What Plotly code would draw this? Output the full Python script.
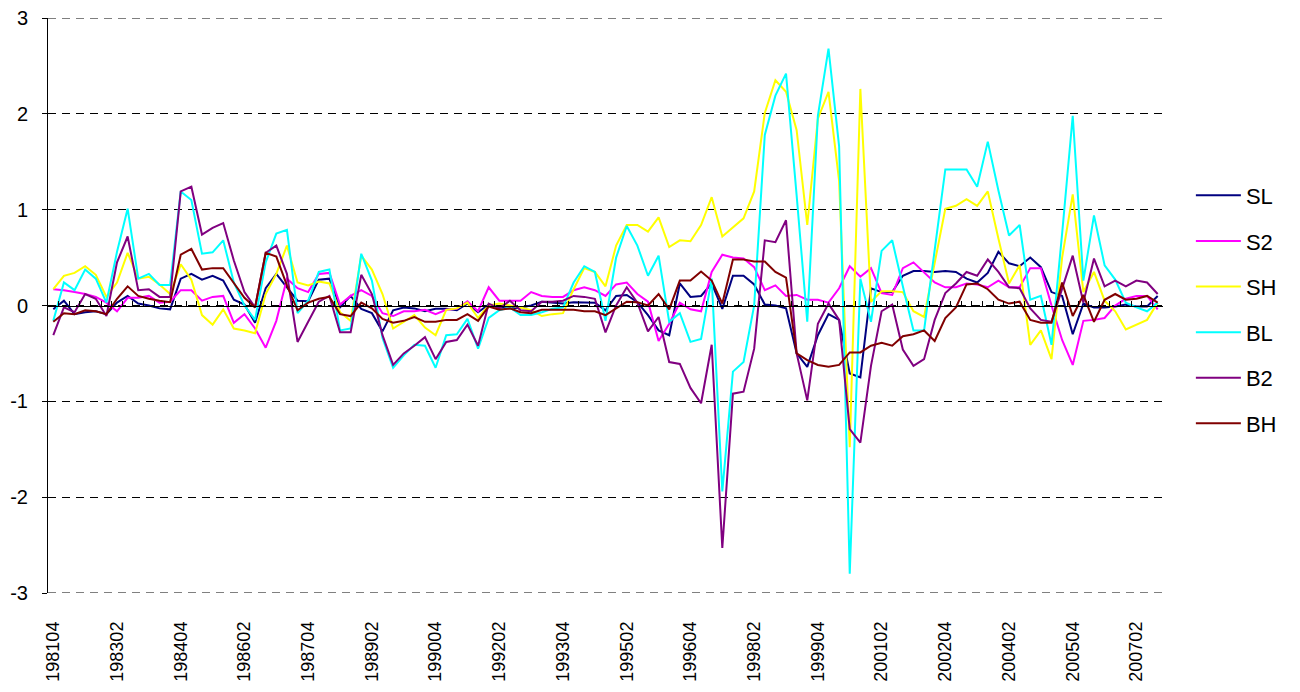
import plotly.graph_objects as go

# quarterly categories 198104 .. 200704
start_year, start_q = 1981, 4
n_points = 105
categories = []
y, q = start_year, start_q
for _ in range(n_points):
    categories.append(f"{y}0{q}")
    q += 1
    if q > 4:
        q = 1
        y += 1

SL = [-0.04, 0.05, -0.09, -0.07, -0.06, -0.09, 0.03, 0.10, 0.02, 0.00,
      -0.03, -0.04, 0.28, 0.33, 0.27, 0.31, 0.26, 0.06, 0.01, -0.18,
      0.18, 0.33, 0.19, 0.05, 0.045, 0.27, 0.28, -0.02, 0.10, -0.035,
      -0.08, -0.27, -0.05, -0.02, -0.03, -0.06, -0.035, -0.035, -0.05, 0.02,
      -0.07, 0.01, -0.02, -0.03, -0.02, 0.00, 0.04, 0.03, 0.02, 0.035,
      0.03, 0.03, -0.05, 0.10, 0.11, 0.035, -0.10, -0.26, -0.31, 0.23,
      0.09, 0.10, 0.23, -0.035, 0.31, 0.31, 0.22, 0.01, 0.00, -0.03,
      -0.50, -0.64, -0.31, -0.09, -0.15, -0.71, -0.75, 0.18, 0.14, 0.14,
      0.31, 0.36, 0.36, 0.35, 0.36, 0.35, 0.28, 0.24, 0.34, 0.56,
      0.44, 0.41, 0.50, 0.40, 0.14, 0.10, -0.30, 0.02, -0.02, -0.02,
      -0.01, 0.01, -0.01, -0.01, 0.10]

S2 = [0.17, 0.16, 0.14, 0.12, 0.09, 0.03, -0.06, 0.08, 0.08, 0.10,
      0.03, 0.04, 0.16, 0.16, 0.05, 0.09, 0.10, -0.18, -0.09, -0.24,
      -0.44, -0.16, 0.28, 0.18, 0.14, 0.33, 0.34, 0.01, 0.10, 0.16,
      0.10, -0.08, -0.11, -0.06, -0.06, -0.045, -0.09, -0.045, -0.035, 0.045,
      -0.06, 0.19, 0.05, 0.05, 0.05, 0.14, 0.10, 0.09, 0.09, 0.16,
      0.19, 0.16, 0.10, 0.22, 0.24, 0.12, 0.04, -0.37, -0.19, 0.03,
      -0.04, -0.06, 0.35, 0.53, 0.50, 0.49, 0.40, 0.16, 0.21, 0.10,
      0.11, 0.06, 0.06, 0.03, 0.18, 0.41, 0.30, 0.39, 0.13, 0.11,
      0.39, 0.45, 0.35, 0.24, 0.19, 0.19, 0.23, 0.22, 0.19, 0.26,
      0.19, 0.19, 0.39, 0.39, 0.00, -0.36, -0.62, -0.16, -0.15, -0.13,
      0.00, 0.07, 0.10, 0.10, -0.04]

SH = [0.17, 0.31, 0.34, 0.41, 0.32, 0.09, 0.24, 0.55, 0.28, 0.30,
      0.22, 0.12, 0.43, 0.27, -0.10, -0.20, -0.04, -0.24, -0.26, -0.29,
      0.12, 0.33, 0.625, 0.24, 0.21, 0.25, 0.23, -0.07, -0.16, 0.52,
      0.375, 0.12, -0.24, -0.17, -0.10, -0.23, -0.31, -0.045, -0.03, 0.03,
      -0.13, 0.00, 0.02, 0.00, -0.02, -0.05, -0.11, -0.09, -0.08, 0.17,
      0.39, 0.35, 0.20, 0.625, 0.84, 0.84, 0.77, 0.92, 0.61, 0.68,
      0.67, 0.84, 1.13, 0.72, 0.82, 0.91, 1.19, 2.01, 2.35, 2.23,
      1.83, 0.84, 1.95, 2.23, 1.30, -1.48, 2.26, 0.04, 0.15, 0.15,
      0.14, -0.06, -0.12, 0.45, 1.01, 1.04, 1.11, 1.04, 1.19, 0.70,
      0.23, 0.42, -0.41, -0.26, -0.56, 0.50, 1.16, 0.14, 0.35, 0.05,
      -0.06, -0.25, -0.20, -0.15, 0.03]

BL = [-0.16, 0.24, 0.16, 0.375, 0.28, 0.03, 0.56, 1.01, 0.28, 0.33,
      0.215, 0.215, 1.19, 1.10, 0.54, 0.555, 0.68, 0.24, 0.00, -0.15,
      0.45, 0.75, 0.79, -0.08, 0.05, 0.35, 0.375, -0.26, -0.24, 0.54,
      0.26, -0.34, -0.65, -0.52, -0.41, -0.42, -0.65, -0.31, -0.30, -0.14,
      -0.45, -0.13, -0.05, -0.02, -0.10, -0.10, -0.07, -0.035, -0.02, 0.24,
      0.41, 0.35, -0.16, 0.50, 0.83, 0.625, 0.31, 0.52, -0.17, -0.08,
      -0.38, -0.35, 0.28, -1.94, -0.69, -0.59, 0.00, 1.78, 2.19, 2.42,
      1.15, -0.17, 1.98, 2.68, 1.66, -2.80, 0.28, -0.17, 0.57, 0.68,
      0.20, -0.26, -0.26, 0.60, 1.42, 1.42, 1.42, 1.24, 1.71, 1.20,
      0.73, 0.84, 0.06, 0.10, -0.41, 0.75, 1.98, 0.26, 0.94, 0.42,
      0.27, 0.03, -0.02, -0.06, 0.03]

B2 = [-0.31, -0.02, -0.07, 0.12, 0.07, -0.11, 0.45, 0.72, 0.16, 0.17,
      0.09, 0.09, 1.19, 1.24, 0.74, 0.81, 0.86, 0.47, 0.14, -0.02,
      0.55, 0.625, 0.33, -0.38, -0.17, 0.04, 0.10, -0.28, -0.28, 0.32,
      0.12, -0.31, -0.62, -0.50, -0.42, -0.33, -0.56, -0.38, -0.36, -0.20,
      -0.42, 0.02, -0.03, 0.05, -0.05, -0.06, 0.04, 0.04, 0.05, 0.10,
      0.09, 0.07, -0.28, 0.00, 0.19, 0.03, -0.27, -0.12, -0.59, -0.61,
      -0.86, -1.02, -0.41, -2.53, -0.92, -0.90, -0.45, 0.68, 0.66, 0.89,
      -0.50, -0.99, -0.19, 0.02, -0.15, -1.29, -1.43, -0.63, -0.06, 0.01,
      -0.46, -0.63, -0.56, -0.15, 0.13, 0.23, 0.35, 0.31, 0.48, 0.35,
      0.19, 0.18, -0.03, -0.15, -0.17, 0.17, 0.52, 0.03, 0.49, 0.20,
      0.26, 0.20, 0.26, 0.24, 0.12]

BH = [-0.17, -0.08, -0.09, -0.05, -0.06, -0.09, 0.07, 0.20, 0.10, 0.07,
      0.05, 0.035, 0.53, 0.59, 0.375, 0.39, 0.39, 0.23, 0.08, -0.02,
      0.55, 0.51, 0.21, -0.05, 0.03, 0.07, 0.09, -0.09, -0.11, 0.03,
      -0.03, -0.14, -0.18, -0.16, -0.12, -0.17, -0.17, -0.15, -0.15, -0.09,
      -0.16, -0.01, -0.045, -0.03, -0.07, -0.08, -0.045, -0.045, -0.045, -0.045,
      -0.06, -0.06, -0.10, -0.03, 0.04, 0.035, 0.00, 0.12, -0.04, 0.26,
      0.26, 0.355, 0.26, 0.02, 0.48, 0.48, 0.46, 0.46, 0.35, 0.29,
      -0.50, -0.57, -0.62, -0.64, -0.62, -0.49, -0.49, -0.42, -0.39, -0.42,
      -0.32, -0.30, -0.26, -0.37, -0.13, -0.02, 0.22, 0.23, 0.17, 0.06,
      0.02, 0.04, -0.15, -0.18, -0.18, 0.24, -0.11, 0.11, -0.17, 0.06,
      0.12, 0.06, 0.07, 0.10, 0.03]

series_names = ["SL", "S2", "SH", "BL", "B2", "BH"]
series_values = [SL, S2, SH, BL, B2, BH]
series_colors = ["#000080", "#FF00FF", "#FFFF00", "#00FFFF", "#800080", "#800000"]

y_ticks = [3, 2, 1, 0, -1, -2, -3]
y_ticktext = [str(v) for v in y_ticks]
label_step = 6
font_family = "Arial, Liberation Sans, sans-serif"
grid_dash = "8px,6px"

fig = go.Figure()
for name, vals, col in zip(series_names, series_values, series_colors):
    fig.add_trace(go.Scatter(
        x=categories, y=vals, name=name, mode="lines",
        line=dict(color=col, width=2), legendgroup=name,
    ))

# helper trace to host the zero-line category axis with boundary ticks
fig.add_trace(go.Scatter(
    x=list(range(len(categories))), y=[None] * len(categories),
    xaxis="x2", showlegend=False, hoverinfo="skip",
))

# dashed gridlines at the range edges (plotly omits them there)
for v in (max(y_ticks), min(y_ticks)):
    fig.add_shape(type="line", xref="paper", x0=0, x1=1, yref="y", y0=v, y1=v,
                  line=dict(color="black", width=1, dash=grid_dash), layer="below")

fig.update_layout(
    width=1300, height=692,
    margin=dict(l=40, r=145, t=10, b=107),
    paper_bgcolor="white", plot_bgcolor="white",
    font=dict(family=font_family, color="black"),
    showlegend=True,
    legend=dict(
        x=1.025, xanchor="left", y=0.493, yanchor="middle",
        font=dict(size=22, family=font_family),
        tracegroupgap=14, itemwidth=45,
        bgcolor="rgba(0,0,0,0)",
    ),
    xaxis=dict(
        type="category",
        categoryorder="array", categoryarray=categories,
        range=[-0.5, len(categories) - 0.5],
        tickmode="array",
        tickvals=categories[::label_step],
        ticktext=categories[::label_step],
        tickangle=-90,
        tickfont=dict(size=18, family=font_family),
        ticks="", showgrid=False, showline=False, zeroline=False,
        ticklabelstandoff=24, automargin=False, ticklabeloverflow="allow",
    ),
    xaxis2=dict(
        overlaying="x", anchor="free", position=0.5,
        range=[-0.5, len(categories) - 0.5],
        tickmode="array",
        tickvals=[k - 0.5 for k in range(len(categories) + 1)],
        showticklabels=False,
        ticks="inside", ticklen=5, tickcolor="black", tickwidth=1,
        showline=True, linecolor="black", linewidth=1,
        showgrid=False, zeroline=False, automargin=False,
    ),
    yaxis=dict(
        range=[-3, 3],
        tickmode="array", tickvals=y_ticks, ticktext=y_ticktext,
        tickfont=dict(size=20, family=font_family),
        showgrid=True, gridcolor="black", gridwidth=1, griddash=grid_dash,
        zeroline=False,
        showline=True, linecolor="black", linewidth=1,
        ticks="outside", ticklen=5, tickcolor="black",
        ticklabelstandoff=10, automargin=False, ticklabeloverflow="allow",
    ),
)

fig.write_html("out.html")
